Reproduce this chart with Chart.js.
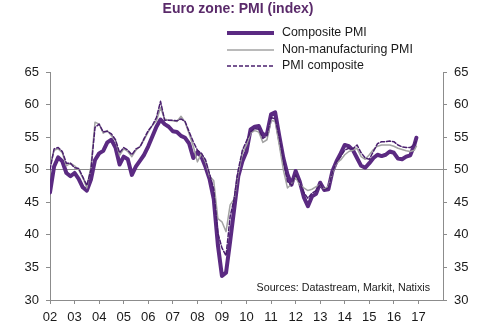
<!DOCTYPE html>
<html>
<head>
<meta charset="utf-8">
<script src="https://cdn.jsdelivr.net/npm/chart.js@4.4.1/dist/chart.umd.min.js"></script>
<style>
  body { margin: 0; background: #fff; }
  #wrap { width: 496px; height: 329px; }
</style>
</head>
<body>
<div id="wrap"><canvas id="chart" width="496" height="329"></canvas></div>
<script>
// Dates: every second month from Jan 2002, last point Dec 2016
const dates = [];
for (let y = 2002; y <= 2016; y++) {
    [0, 2, 4, 6, 8, 10].forEach(m => dates.push(y + m / 12));
}
dates.push(2016 + 11 / 12);

const compositePmi = [
    46.5, 50.5, 51.9, 51.3, 49.5, 49.0,
    49.5, 48.6, 47.3, 46.8, 48.5, 51.5,
    52.5, 52.9, 54.2, 54.6, 53.4, 50.8,
    52.0, 51.6, 49.2, 50.5, 51.4, 52.3,
    53.6, 55.1, 56.6, 57.7, 57.0, 56.6,
    55.9, 55.8, 55.2, 54.9, 54.0, 51.8,
    52.7, 52.0, 50.4, 48.5, 45.5, 38.5,
    33.7, 34.2, 39.0, 44.0, 49.0, 51.3,
    52.8, 56.2, 56.6, 56.7, 55.3, 55.5,
    58.5, 58.8, 55.2, 51.8, 49.3, 47.7,
    49.8, 48.2, 45.8, 44.4, 45.9, 46.3,
    48.0, 46.9, 47.0, 49.8, 51.3, 52.5,
    53.8, 53.6, 53.0, 51.8, 50.6, 50.3,
    51.0, 51.8, 52.3, 52.1, 52.3, 52.8,
    52.6, 51.7, 51.6, 52.0, 52.2, 53.8, 54.9
];
const nonManufacturingPmi = [
    50.5, 53.0, 53.2, 52.6, 50.6, 51.0,
    50.6, 50.0, 48.8, 47.2, 50.5, 57.3,
    57.0, 55.6, 56.0, 55.2, 54.5, 52.2,
    53.2, 52.8, 52.0, 53.0, 53.6, 54.6,
    55.8, 56.8, 57.5, 59.5, 57.8, 57.6,
    57.5, 57.4, 58.2, 57.3, 55.5, 53.6,
    51.2, 52.5, 51.2, 49.0, 48.3, 42.5,
    42.0, 40.5, 44.6, 45.5, 49.5, 52.5,
    53.8, 55.6, 56.0, 55.8, 54.2, 54.6,
    57.6, 57.4, 53.8, 50.0, 47.2, 47.8,
    48.8, 47.7, 47.2, 46.8, 47.0, 47.4,
    47.7, 47.0, 47.5, 49.5, 51.0, 51.5,
    52.3, 52.8, 53.0, 53.3, 52.0, 51.6,
    52.3, 53.1, 53.6, 53.8, 53.8, 53.8,
    53.6, 53.3, 53.1, 52.9, 52.8, 53.0, 53.6
];
const pmiComposite = [
    50.0, 53.2, 53.4, 52.8, 51.0, 51.0,
    50.3, 50.2, 48.9, 47.6, 50.0, 56.5,
    57.0, 55.8, 55.9, 55.5, 54.6, 52.6,
    53.4, 53.0, 52.3, 53.2, 53.5, 54.8,
    56.0, 56.8, 58.0, 60.5, 57.6, 57.6,
    57.6, 57.5, 57.8, 57.4, 55.8, 54.3,
    53.0, 52.5, 51.5, 49.3, 47.0, 40.3,
    38.0, 36.8, 42.8, 45.6, 50.0, 53.0,
    54.4, 55.8, 56.3, 56.2, 54.8, 55.2,
    58.0, 57.8, 55.0, 51.5, 48.2, 47.6,
    49.2, 48.0, 46.5, 45.6, 46.4, 46.8,
    47.8, 46.9, 47.2, 49.6, 51.2, 52.0,
    53.0, 53.3, 53.2, 53.8, 52.6, 51.8,
    51.6, 52.8, 54.0, 54.3, 54.3, 54.4,
    54.3, 53.8, 53.5, 53.4, 53.4, 53.9, 54.5
];

const yearTicks = [2002, 2003, 2004, 2005, 2006, 2007, 2008, 2009, 2010, 2011, 2012, 2013, 2014, 2015, 2016, 2017];
const yearLabels = ['02', '03', '04', '05', '06', '07', '08', '09', '10', '11', '12', '13', '14', '15', '16', '17'];
const seriesNames = ['Composite PMI', 'Non-manufacturing PMI', 'PMI composite'];

const purple = '#5b2a82';
const grey = '#a3a3a3';
const axisGrey = '#8c8c8c';
const font = 'Liberation Sans, Arial, sans-serif';

const pts = vals => vals.map((v, i) => ({ x: dates[i], y: v }));

// Title, legend and source text
const decorations = {
    id: 'decorations',
    afterDraw(chart) {
        const ctx = chart.ctx;
        ctx.save();
        ctx.fillStyle = '#5a2a6a';
        ctx.font = 'bold 14px ' + font;
        ctx.textAlign = 'center';
        ctx.textBaseline = 'middle';
        ctx.fillText('Euro zone: PMI (index)', 238, 9);

        const rows = [33, 50, 66];
        chart.data.datasets.forEach((ds, i) => {
            ctx.beginPath();
            ctx.strokeStyle = ds.borderColor;
            ctx.lineWidth = ds.borderWidth;
            ctx.setLineDash(ds.borderDash || []);
            ctx.moveTo(227, rows[i]);
            ctx.lineTo(274, rows[i]);
            ctx.stroke();
            ctx.setLineDash([]);
            ctx.fillStyle = '#1a1a1a';
            ctx.font = '12.4px ' + font;
            ctx.textAlign = 'left';
            ctx.fillText(ds.label, 282, rows[i]);
        });

        ctx.font = '10.7px ' + font;
        ctx.textAlign = 'right';
        ctx.fillStyle = '#1a1a1a';
        ctx.fillText('Sources: Datastream, Markit, Natixis', 430, 288);
        ctx.restore();
    }
};

const yAxis = (pos, width) => ({
    position: pos,
    min: 30,
    max: 65,
    afterFit: s => { s.width = width; },
    ticks: {
        stepSize: 5,
        color: '#1a1a1a',
        font: { family: font, size: 13 },
        padding: 7
    },
    grid: {
        drawOnChartArea: pos === 'left',
        color: c => c.tick && c.tick.value === 50 ? axisGrey : 'rgba(0,0,0,0)',
        tickColor: axisGrey,
        tickLength: 4
    },
    border: { display: true, color: axisGrey, width: 1 }
});

new Chart(document.getElementById('chart'), {
    type: 'line',
    data: {
        datasets: [
            {
                label: seriesNames[0],
                data: pts(compositePmi),
                borderColor: purple,
                borderWidth: 4,
                order: 3
            },
            {
                label: seriesNames[1],
                data: pts(nonManufacturingPmi),
                borderColor: grey,
                borderWidth: 1.5,
                order: 2
            },
            {
                label: seriesNames[2],
                data: pts(pmiComposite),
                borderColor: '#4a1f6e',
                borderWidth: 1.5,
                borderDash: [4, 2],
                order: 1
            }
        ]
    },
    options: {
        responsive: false,
        animation: false,
        events: [],
        layout: { padding: { top: 72, left: 0, right: 0, bottom: 0 } },
        elements: {
            point: { radius: 0 },
            line: { tension: 0, borderJoinStyle: 'round', borderCapStyle: 'round' }
        },
        plugins: { legend: { display: false }, title: { display: false }, tooltip: { enabled: false } },
        scales: {
            x: {
                type: 'linear',
                min: 2002,
                max: 2018,
                afterBuildTicks: s => { s.ticks = yearTicks.map(v => ({ value: v })); },
                afterFit: s => { s.height = 29; },
                ticks: {
                    autoSkip: false,
                    maxRotation: 0,
                    color: '#1a1a1a',
                    font: { family: font, size: 13 },
                    padding: 6,
                    callback: (v, i) => yearLabels[i]
                },
                grid: { drawOnChartArea: false, tickColor: axisGrey, tickLength: 4 },
                border: { display: true, color: axisGrey, width: 1 }
            },
            y: yAxis('left', 50),
            y2: yAxis('right', 53)
        }
    },
    plugins: [decorations]
});
</script>
</body>
</html>
